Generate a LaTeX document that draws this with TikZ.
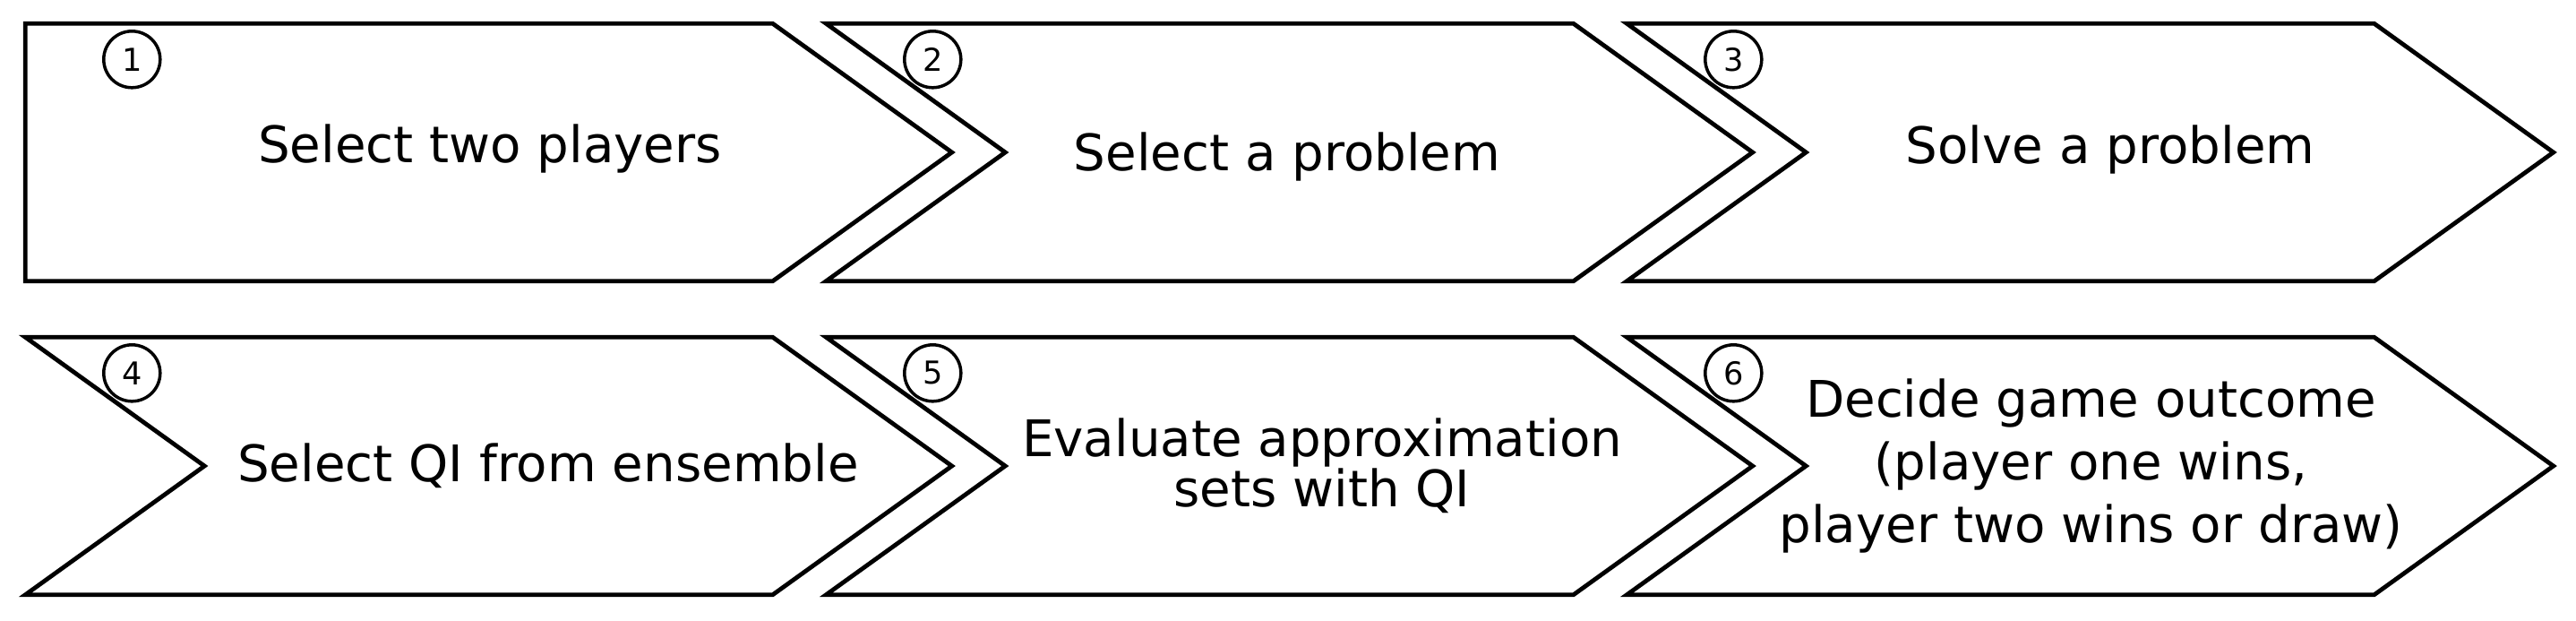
\documentclass[tikz,border=0pt]{standalone}
\usepackage{fontspec}
\setmainfont{DejaVu Sans}

\begin{document}
\begin{tikzpicture}[node distance=8.94cm,
  stepbox/.style={minimum width=8.33cm, minimum height=2.86cm, inner sep=0pt},
  stepline/.style={draw, line width=0.048cm, line join=miter},
  stepnum/.style={draw, circle, line width=0.035cm, minimum size=0.63cm,
    inner sep=0pt, font=\fontsize{10}{12}\selectfont},
  steptext/.style={align=center, font=\fontsize{16}{20}\selectfont}]
  \useasboundingbox (0,0) rectangle (28.76,-6.92);

  \node[stepbox] (s1) at (4.455,-1.70) {};
  \node[stepbox] (s2) [right of=s1] {};
  \node[stepbox] (s3) [right of=s2] {};
  \node[stepbox] (s4) [node distance=3.5cm, below of=s1] {};
  \node[stepbox] (s5) [right of=s4] {};
  \node[stepbox] (s6) [right of=s5] {};

  % first step has a flat back, the others are notched
  \draw[stepline] (s1.north west) -- (s1.north east) -- ([xshift=2cm]s1.east)
    -- (s1.south east) -- (s1.south west) -- cycle;
  \foreach \i in {2,...,6}
    \draw[stepline] (s\i.north west) -- (s\i.north east) -- ([xshift=2cm]s\i.east)
      -- (s\i.south east) -- (s\i.south west) -- ([xshift=2cm]s\i.west) -- cycle;

  \node[steptext] (t1) at ([shift={(1.015,0.04)}]s1.center) {Select two players};
  \node[steptext] (t2) at ([shift={(0.975,-0.05)}]s2.center) {Select a problem};
  \node[steptext] (t3) at ([shift={(1.225,0.03)}]s3.center) {Solve a problem};
  \node[steptext] (t4) at ([xshift=1.665cm]s4.center) {Select QI from ensemble};
  \node[steptext, font=\fontsize{16}{16}\selectfont] (t5) at ([xshift=1.365cm]s5.center)
    {Evaluate approximation\\sets with QI};
  \node[steptext] (t6) at ([xshift=1.01cm]s6.center)
    {Decide game outcome\\(player one wins,\\player two wins or draw)};

  \foreach \i in {1,...,6}
    \node[stepnum] (n\i) at ([shift={(1.19,-0.40)}]s\i.north west) {\i};
\end{tikzpicture}
\end{document}
